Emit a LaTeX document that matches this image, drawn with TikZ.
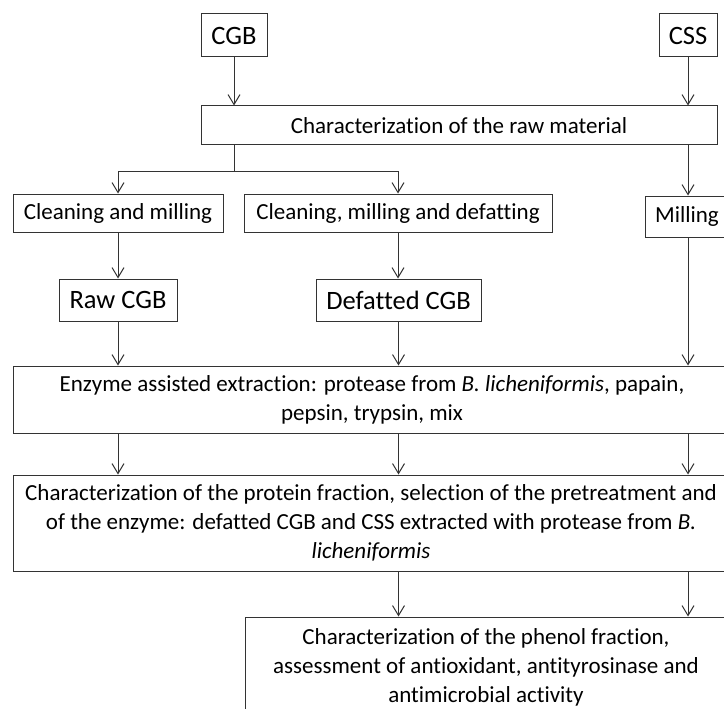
\documentclass[tikz,border=0pt]{standalone}
\usepackage{fontspec}
\setmainfont{Carlito}[Ligatures=NoCommon]
\usetikzlibrary{arrows.meta}

\tikzset{
	box/.style={draw=black!80, line width=1pt, rectangle, inner sep=0pt, align=center, text=black},
	big/.style={font=\fontsize{26.5}{30}\selectfont},
	small/.style={font=\fontsize{23}{29}\selectfont}
}

\begin{document}
\begin{tikzpicture}[x=1pt,y=-1pt,->,>={Straight Barb[length=10pt,width=12pt]},line width=1pt,draw=black!80]

\useasboundingbox (0,0) rectangle (724,709);

\node[box,big,minimum width=66pt,minimum height=43pt]	(cgb)		at (234,35.5)	{CGB};
\node[box,big,minimum width=58pt,minimum height=43pt]	(css)		at (688,35.5)	{CSS};
\node[box,small,minimum width=516pt,minimum height=39pt]	(rawchar)	at (459,125.5)	{Characterization of the raw material};
\node[box,small,minimum width=210pt,minimum height=38pt]	(clean)		at (118,213)	{Cleaning and milling};
\node[box,small,minimum width=308pt,minimum height=38pt]	(cleandef)	at (398,213)	{Cleaning, milling and defatting};
\node[box,small,minimum width=84pt,minimum height=41pt]	(mill)		at (687,216.5)	{Milling};
\node[box,big,minimum width=118pt,minimum height=42pt]	(rawcgb)	at (118,300)	{Raw CGB};
\node[box,big,minimum width=165pt,minimum height=42pt]	(defcgb)	at (398.5,300)	{Defatted CGB};
\node[box,small,minimum width=718pt,minimum height=67pt]	(enzyme)	at (372,399.5)
	{Enzyme assisted extraction: protease from \textit{B. licheniformis}, papain,\\ pepsin, trypsin, mix};
\node[box,small,minimum width=716pt,minimum height=96pt]	(protein)	at (371,523)
	{Characterization of the protein fraction, selection of the pretreatment and\\ of the enzyme: defatted CGB and CSS extracted with protease from \textit{B.}\\ \textit{licheniformis}};
\node[box,small,minimum width=482pt,minimum height=100pt]	(phenol)	at (486,667)
	{Characterization of the phenol fraction,\\ assessment of antioxidant, antityrosinase and\\ antimicrobial activity};

\coordinate (split) at (234,171);

\path
	(cgb)		edge (cgb |- rawchar.north)
	(css)		edge (css |- rawchar.north)
	(rawchar.south -| css)	edge (css |- mill.north)
	(clean)		edge (rawcgb)
	(cleandef)	edge (cleandef |- defcgb.north)
	(rawcgb)	edge (rawcgb |- enzyme.north)
	(defcgb)	edge (defcgb |- enzyme.north)
	(mill.south -| css)	edge (css |- enzyme.north)
	(enzyme.south -| rawcgb)	edge (rawcgb |- protein.north)
	(enzyme.south -| defcgb)	edge (defcgb |- protein.north)
	(enzyme.south -| css)	edge (css |- protein.north)
	(protein.south -| defcgb)	edge (defcgb |- phenol.north)
	(protein.south -| css)	edge (css |- phenol.north);

\draw[-] (rawchar.south -| cgb) -- (split);
\draw (split) -| (clean);
\draw (split) -| (cleandef);
\end{tikzpicture}
\end{document}
